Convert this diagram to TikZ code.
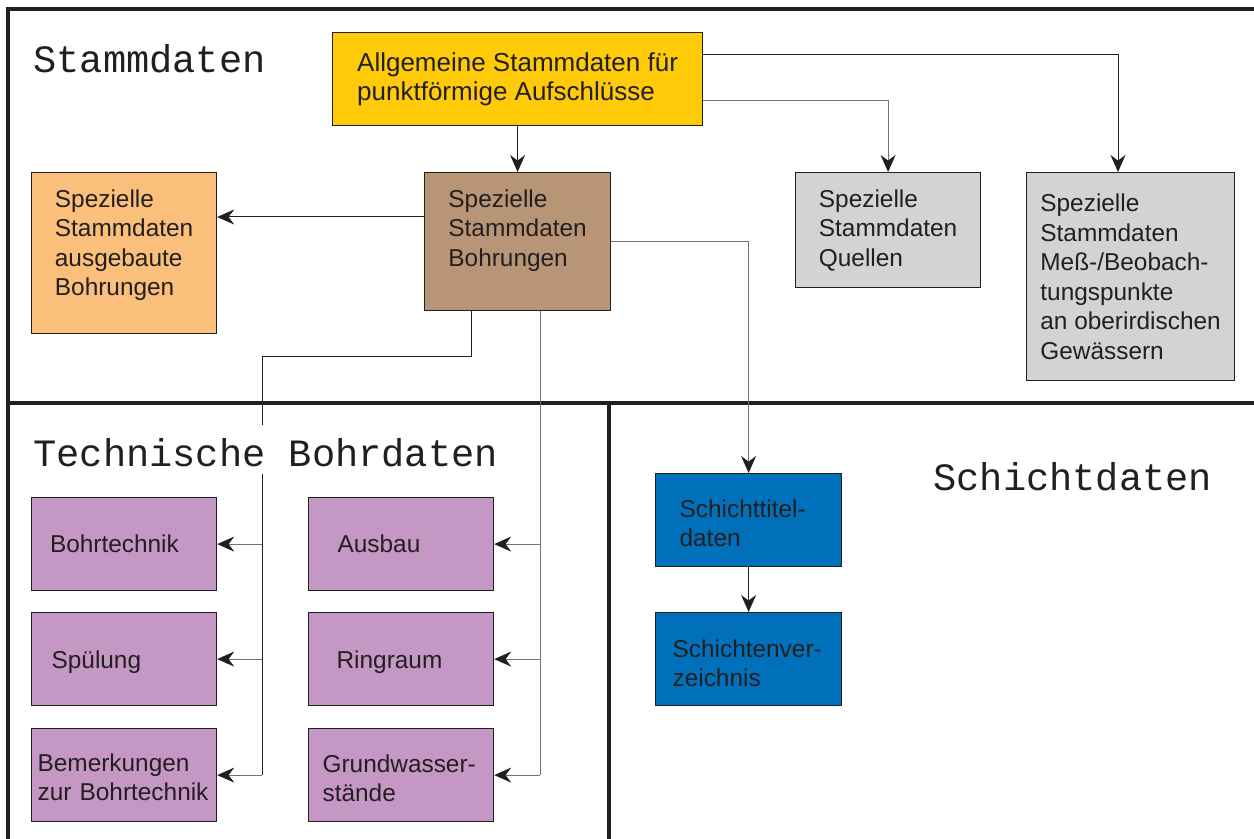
\documentclass[tikz,border=0pt]{standalone}
\usepackage{fontspec}
\setmainfont{Liberation Sans}
\setsansfont{Liberation Sans}
\setmonofont{Liberation Mono}
\usetikzlibrary{calc,arrows.meta}

\definecolor{gelb}{RGB}{255,203,8}
\definecolor{hellorange}{RGB}{251,191,124}
\definecolor{braun}{RGB}{185,149,119}
\definecolor{hellgrau}{RGB}{209,211,212}
\definecolor{lila}{RGB}{196,151,197}
\definecolor{blau}{RGB}{0,112,186}
\definecolor{dunkel}{RGB}{35,31,32}

\newcommand{\tiefe}[1]{\rule[-#1]{0pt}{#1}}
\newcommand{\hoehe}[1]{\rule{0pt}{#1}}

\tikzset{
  kasten/.style={draw=dunkel, line width=0.6pt, anchor=north west, inner ysep=0pt,
    align=left, text=dunkel, font=\sffamily\fontsize{12.2}{14.75}\selectfont},
  klein/.style={kasten, minimum width=92.5pt, minimum height=46.5pt},
  bereich/.style={anchor=base west, inner sep=0pt, text=dunkel,
    font=\ttfamily\fontsize{19.35}{22}\selectfont},
  linie/.style={line width=0.5pt, draw=dunkel},
  grau/.style={line width=0.5pt, draw=black!55},
  spitze/.style={-{Stealth[length=8.5pt,width=7.5pt,inset=2.8pt,color=dunkel]}},
}

\begin{document}
\begin{tikzpicture}[x=0.5pt,y=-0.5pt]
\useasboundingbox (0,0) rectangle (1254,839);

% Rahmen der drei Bereiche
\draw[line width=2pt, dunkel] (1254,9) -- (8,9) -- (8,839);
\draw[line width=2pt, dunkel] (8,403) -- (1254,403);
\draw[line width=2pt, dunkel] (609,403) -- (609,839);

\node[bereich] (stamm) at (33,73) {Stammdaten};
\node[bereich] (schicht) at (933,491) {Schichtdaten};

\node[kasten, fill=gelb, minimum width=185pt, minimum height=46.5pt,
  font=\sffamily\fontsize{13}{14.5}\selectfont] (allg) at (332,32)
  {Allgemeine Stammdaten für\\punktförmige Aufschlüsse};
\node[kasten, fill=hellorange, minimum width=92.5pt, minimum height=80.5pt]
  (ausg) at (31,172) {Spezielle\\Stammdaten\\ausgebaute\\Bohrungen\tiefe{10.6pt}};
\node[kasten, fill=braun, minimum width=93pt, minimum height=69pt]
  (bohr) at (424,172) {Spezielle\\Stammdaten\\Bohrungen\tiefe{13.6pt}};
\node[kasten, fill=hellgrau, minimum width=92.5pt, minimum height=57.5pt]
  (quel) at (795,172) {Spezielle\\Stammdaten\\Quellen};
\node[kasten, fill=hellgrau, minimum width=104pt, minimum height=104pt]
  (mess) at (1026,172) {Spezielle\\Stammdaten\\Meß-/Beobach-\\tungspunkte\\an oberirdischen\\Gewässern};

\node[klein, fill=lila, inner xsep=9.2pt, text width=74.1pt] (bohrt) at (31,497) {Bohrtechnik};
\node[klein, fill=lila, inner xsep=10pt, text width=72.5pt] (spuel) at (31,612) {\hoehe{12.1pt}Spülung};
\node[klein, fill=lila, inner xsep=3pt, text width=86.5pt] (bemerk) at (31,728) {\hoehe{10.9pt}Bemerkungen\\zur Bohrtechnik};
\node[klein, fill=lila, inner xsep=14.5pt, text width=63.5pt] (ausbau) at (308,497) {Ausbau};
\node[klein, fill=lila, inner xsep=14pt, text width=64.5pt] (ring) at (308,612) {\hoehe{12.1pt}Ringraum};
\node[klein, fill=lila, inner xsep=7pt, text width=78.5pt] (grundw) at (308,728) {\hoehe{11.9pt}Grundwasser-\\stände};

\node[klein, fill=blau, minimum width=93pt, inner xsep=12pt, text width=69pt] (titel) at (655,473) {\hoehe{11.9pt}Schichttitel-\\daten};
\node[klein, fill=blau, minimum width=93pt, inner xsep=8.5pt, text width=76pt] (verz) at (655,612) {\hoehe{12.9pt}Schichtenver-\\zeichnis};

\draw[linie, spitze] (allg) -- (bohr);
\draw[linie, spitze] ($(allg.north east)+(0,23)$) -| ($(mess.north west)+(92,0)$);
\draw[grau, spitze] ($(allg.north east)+(0,69)$) -| (quel.north);
\draw[linie, spitze] ($(bohr.north west)+(0,45)$) coordinate (bl) -- (bl -| ausg.east);
\draw[grau, spitze] (bohr.east) -| (titel.north);
\draw[linie, spitze] (titel) -- (verz);

% Technische Bohrdaten
\coordinate (lstamm) at (262,357);
\coordinate (rstamm) at ($(bohr.south west)+(116,0)$);
\draw[linie] ($(bohr.south west)+(47,0)$) |- (lstamm) -- (lstamm |- bemerk.east);
\draw[grau] (rstamm) -- (rstamm |- grundw.east);
\foreach \k in {bohrt,spuel,bemerk}
  \draw[grau, spitze] (lstamm |- \k.east) -- (\k.east);
\foreach \k in {ausbau,ring,grundw}
  \draw[grau, spitze] (rstamm |- \k.east) -- (\k.east);

\node[bereich, fill=white, text height=21pt, text depth=3.5pt] (technik) at (33,467) {Technische Bohrdaten};
\end{tikzpicture}
\end{document}
